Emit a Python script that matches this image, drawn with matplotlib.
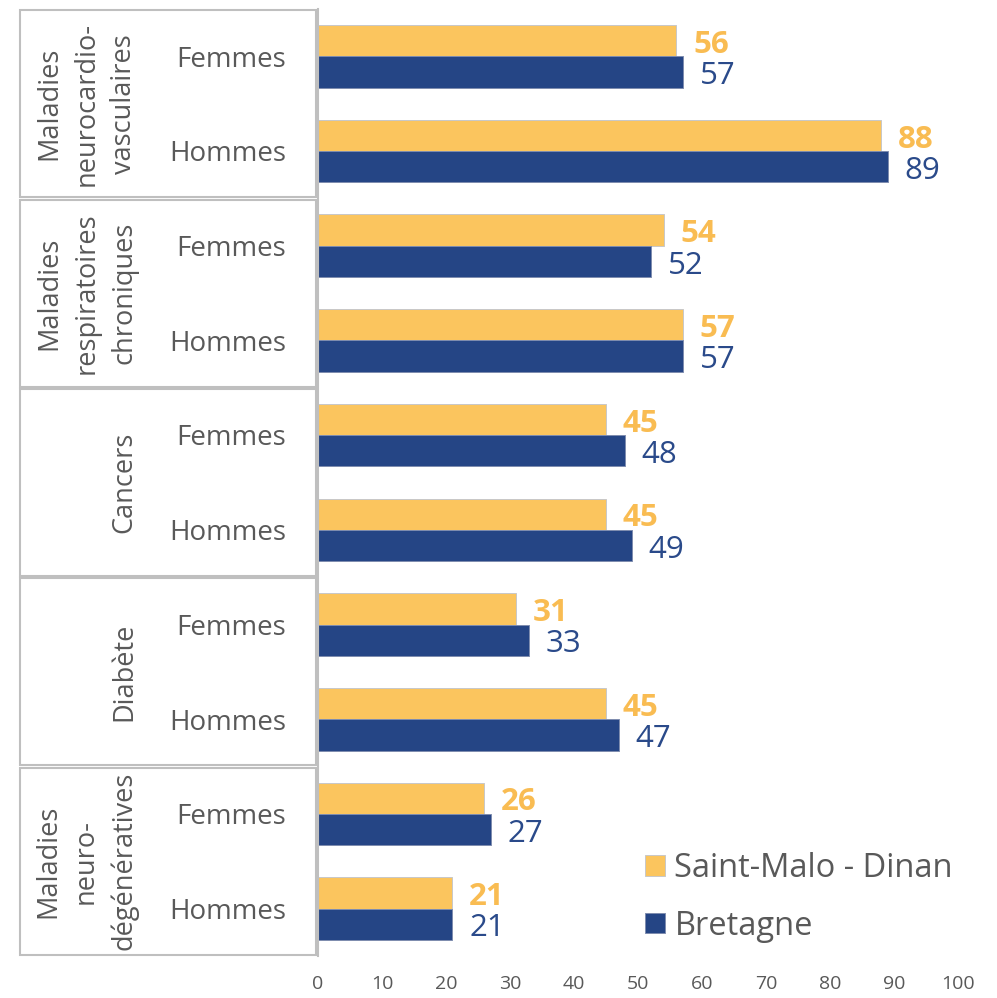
import matplotlib
matplotlib.use("Agg")
import matplotlib.pyplot as plt
from matplotlib.patches import Rectangle

plt.rcParams["font.family"] = ["Open Sans", "DejaVu Sans"]

groups = ["Maladies\nneurocardio-\nvasculaires",
          "Maladies\nrespiratoires\nchroniques",
          "Cancers",
          "Diabète",
          "Maladies\nneuro-\ndégénératives"]
sexes = ["Femmes", "Hommes"]
saint_malo = [56, 88, 54, 57, 45, 45, 31, 45, 26, 21]
bretagne = [57, 89, 52, 57, 48, 49, 33, 47, 27, 21]
ticks = [0, 10, 20, 30, 40, 50, 60, 70, 80, 90, 100]

yellow = "#FBC55E"
blue = "#254585"
grey = "#595959"

fig = plt.figure(figsize=(9.97, 9.98), dpi=100)
W = 640  # axes width in pixels
ax = fig.add_axes([318 / 997, 1 - 956 / 998, W / 997, 947 / 998])

n = len(saint_malo)
pos = list(range(n))
h = 0.33
ax.barh([p - h / 2 for p in pos], saint_malo, height=h, color=yellow,
        edgecolor="#C8C8C8", linewidth=0.7, label="Saint-Malo - Dinan")
ax.barh([p + h / 2 for p in pos], bretagne, height=h, color=blue,
        edgecolor="#7F8DAF", linewidth=0.7, label="Bretagne")

for p, v in zip(pos, saint_malo):
    ax.annotate(str(v), (v, p - h / 2), xytext=(12, -3), textcoords="offset points",
                ha="left", va="center", fontsize=22.5, fontweight="bold", color="#F9BC52")
for p, v in zip(pos, bretagne):
    ax.annotate(str(v), (v, p + h / 2), xytext=(12, -3), textcoords="offset points",
                ha="left", va="center", fontsize=22.5, color="#2A4A8A")

ax.set_xlim(0, 100)
ax.set_ylim(n - 0.5, -0.5)
ax.set_xticks(ticks)
ax.set_xticklabels([str(t) for t in ticks], fontsize=14, color=grey)
ax.tick_params(axis="x", length=0, pad=14)
ax.set_yticks([])
for s in ["top", "right", "bottom"]:
    ax.spines[s].set_visible(False)
ax.spines["left"].set_color("#BFBFBF")
ax.spines["left"].set_linewidth(1.5)

# category panel on the left
trans = matplotlib.transforms.blended_transform_factory(ax.transAxes, ax.transData)
x0 = (20 - 318) / W
x1 = (316 - 318) / W
for g, name in enumerate(groups):
    top = 2 * g - 0.5 + 0.012
    bot = 2 * g + 1.5 - 0.012
    ax.add_patch(Rectangle((x0, top), x1 - x0, bot - top, transform=trans,
                           fill=False, edgecolor="#BFBFBF", linewidth=1.5, clip_on=False))
    ax.text((138 - 318) / W, 2 * g + 0.5, name, transform=trans, rotation=90,
            ha="right", va="center", ma="center", fontsize=19.5, color=grey,
            linespacing=1.45)
    for k, sx in enumerate(sexes):
        ax.text((286 - 318) / W, 2 * g + k + 0.035, sx, transform=trans,
                ha="right", va="center", fontsize=20, color=grey)

ax.legend(loc="center left", bbox_to_anchor=((645 - 318) / W, 0.062), frameon=False,
          fontsize=23.5, handlelength=0.6, handleheight=0.6, handletextpad=0.3,
          labelspacing=0.75, borderaxespad=0, borderpad=0, labelcolor=grey)

plt.savefig("out.png", dpi=100)
